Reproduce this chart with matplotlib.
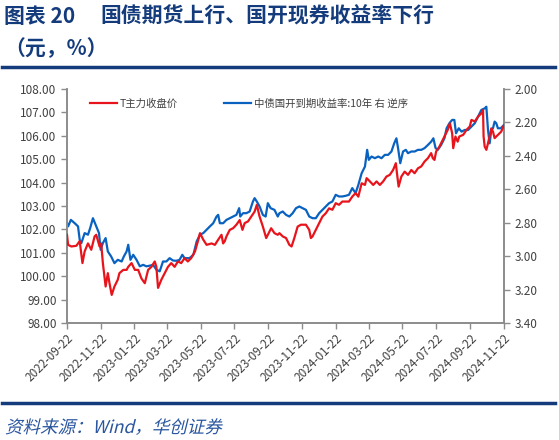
import pandas as pd
import matplotlib.pyplot as plt
import matplotlib.dates as mdates
from matplotlib.lines import Line2D
from matplotlib.textpath import TextPath
from matplotlib.patches import PathPatch
from matplotlib.font_manager import FontProperties
from matplotlib.transforms import Affine2D, IdentityTransform

plt.rcParams['font.family'] = ['Noto Sans CJK SC', 'DejaVu Sans']

# T主力收盘价 (left axis, 元)
t_dates = ['2022-09-22', '2022-09-24', '2022-09-30', '2022-10-09', '2022-10-15', '2022-10-20', '2022-10-24',
           '2022-10-30', '2022-11-05', '2022-11-11', '2022-11-14', '2022-11-20', '2022-11-23', '2022-11-26',
           '2022-12-01', '2022-12-05', '2022-12-08', '2022-12-12', '2022-12-17', '2022-12-23', '2022-12-26',
           '2023-01-02', '2023-01-08', '2023-01-11', '2023-01-17', '2023-01-23', '2023-01-29', '2023-02-04',
           '2023-02-10', '2023-02-16', '2023-02-22', '2023-02-28', '2023-03-03', '2023-03-06', '2023-03-12',
           '2023-03-18', '2023-03-24', '2023-03-30', '2023-04-05', '2023-04-11', '2023-04-17', '2023-04-23',
           '2023-04-29', '2023-05-05', '2023-05-12', '2023-05-18', '2023-05-21', '2023-05-27', '2023-06-02',
           '2023-06-11', '2023-06-17', '2023-06-23', '2023-06-29', '2023-07-02', '2023-07-05', '2023-07-08',
           '2023-07-14', '2023-07-20', '2023-07-26', '2023-08-01', '2023-08-06', '2023-08-10', '2023-08-16',
           '2023-08-22', '2023-08-28', '2023-09-01', '2023-09-06', '2023-09-12', '2023-09-18', '2023-09-24',
           '2023-09-27', '2023-10-03', '2023-10-09', '2023-10-12', '2023-10-18', '2023-10-24', '2023-10-30',
           '2023-11-03', '2023-11-08', '2023-11-14', '2023-11-20', '2023-11-29', '2023-12-05', '2023-12-08',
           '2023-12-11', '2023-12-17', '2023-12-23', '2023-12-29', '2024-01-04', '2024-01-10', '2024-01-16',
           '2024-01-22', '2024-01-28', '2024-02-03', '2024-02-09', '2024-02-15', '2024-02-21', '2024-02-27',
           '2024-03-03', '2024-03-09', '2024-03-15', '2024-03-18', '2024-03-24', '2024-03-30', '2024-04-05',
           '2024-04-11', '2024-04-17', '2024-04-23', '2024-04-29', '2024-05-05', '2024-05-10', '2024-05-12',
           '2024-05-15', '2024-05-20', '2024-05-26', '2024-06-01', '2024-06-07', '2024-06-13', '2024-06-19',
           '2024-06-25', '2024-07-01', '2024-07-07', '2024-07-13', '2024-07-16', '2024-07-19', '2024-07-22',
           '2024-07-28', '2024-08-03', '2024-08-09', '2024-08-12', '2024-08-16', '2024-08-20', '2024-08-22',
           '2024-08-26', '2024-08-30', '2024-09-02', '2024-09-09', '2024-09-15', '2024-09-21', '2024-09-24',
           '2024-09-30', '2024-10-06', '2024-10-12', '2024-10-15', '2024-10-16', '2024-10-18', '2024-10-21',
           '2024-10-24', '2024-10-30', '2024-11-02', '2024-11-05', '2024-11-11', '2024-11-17', '2024-11-22']
t_price = [101.77, 101.34, 101.27, 101.30, 101.50, 100.56, 101.06,
           101.40, 101.13, 101.70, 101.77, 101.27, 101.40, 100.56,
           99.56, 100.13, 99.70, 99.20, 99.56, 99.85, 100.13,
           100.27, 100.27, 100.40, 100.56, 100.27, 100.27, 99.90,
           99.70, 100.27, 100.40, 100.63, 100.40, 99.50, 99.85,
           100.13, 100.40, 100.56, 100.40, 100.63, 100.56, 100.77,
           100.63, 100.77, 101.06, 101.56, 101.84, 101.56, 101.34,
           101.40, 101.34, 101.56, 101.77, 101.40, 101.50, 101.70,
           101.98, 102.05, 102.20, 102.40, 101.98, 102.27, 102.34,
           102.55, 102.76, 103.05, 102.55, 102.12, 101.63, 101.91,
           102.05, 101.84, 101.77, 101.84, 101.70, 101.63, 101.34,
           101.27, 101.63, 102.12, 102.20, 102.20, 101.98, 101.63,
           101.70, 101.98, 102.27, 102.55, 102.69, 102.90, 102.84,
           103.12, 103.05, 103.19, 103.19, 103.19, 103.40, 103.55,
           103.40, 103.97, 103.90, 104.19, 104.05, 103.90, 104.05,
           103.90, 104.05, 104.26, 104.33, 104.54, 104.83, 104.40,
           103.83, 104.26, 104.47, 104.33, 104.54, 104.40, 104.61,
           104.69, 104.90, 105.04, 105.26, 105.04, 104.97, 105.33,
           105.54, 105.83, 106.11, 106.25, 106.53, 106.11, 105.47,
           105.97, 105.75, 105.97, 106.04, 106.25, 106.40, 106.68,
           106.61, 106.82, 106.96, 107.10, 105.97, 105.54, 105.40,
           105.68, 106.32, 106.18, 105.90, 106.04, 106.18, 106.46]

# 中债国开到期收益率:10年 (right axis, %, reversed)
cdb_dates = ['2022-09-22', '2022-09-24', '2022-09-29', '2022-10-06', '2022-10-12', '2022-10-15', '2022-10-18',
             '2022-10-24', '2022-10-30', '2022-11-03', '2022-11-08', '2022-11-14', '2022-11-19', '2022-11-22',
             '2022-11-26', '2022-12-01', '2022-12-05', '2022-12-11', '2022-12-17', '2022-12-23', '2022-12-30',
             '2023-01-03', '2023-01-08', '2023-01-11', '2023-01-15', '2023-01-20', '2023-01-26', '2023-02-01',
             '2023-02-07', '2023-02-13', '2023-02-19', '2023-02-25', '2023-03-03', '2023-03-09', '2023-03-15',
             '2023-03-21', '2023-03-27', '2023-04-02', '2023-04-08', '2023-04-14', '2023-04-19', '2023-04-23',
             '2023-05-02', '2023-05-09', '2023-05-15', '2023-05-21', '2023-05-27', '2023-06-02', '2023-06-08',
             '2023-06-14', '2023-06-20', '2023-06-23', '2023-06-26', '2023-07-02', '2023-07-08', '2023-07-14',
             '2023-07-20', '2023-07-26', '2023-07-31', '2023-08-02', '2023-08-07', '2023-08-13', '2023-08-19',
             '2023-08-25', '2023-08-28', '2023-09-01', '2023-09-06', '2023-09-12', '2023-09-17', '2023-09-21',
             '2023-09-26', '2023-10-03', '2023-10-09', '2023-10-12', '2023-10-18', '2023-10-24', '2023-10-30',
             '2023-11-05', '2023-11-11', '2023-11-17', '2023-11-23', '2023-11-29', '2023-12-05', '2023-12-11',
             '2023-12-17', '2023-12-23', '2023-12-29', '2024-01-04', '2024-01-10', '2024-01-16', '2024-01-22',
             '2024-01-28', '2024-02-03', '2024-02-09', '2024-02-15', '2024-02-21', '2024-02-27', '2024-03-03',
             '2024-03-09', '2024-03-15', '2024-03-19', '2024-03-22', '2024-03-27', '2024-04-02', '2024-04-08',
             '2024-04-14', '2024-04-20', '2024-04-26', '2024-05-02', '2024-05-07', '2024-05-11', '2024-05-14',
             '2024-05-18', '2024-05-23', '2024-05-28', '2024-06-01', '2024-06-07', '2024-06-13', '2024-06-19',
             '2024-06-25', '2024-07-01', '2024-07-07', '2024-07-13', '2024-07-17', '2024-07-21', '2024-07-25',
             '2024-07-31', '2024-08-06', '2024-08-10', '2024-08-15', '2024-08-20', '2024-08-24', '2024-08-27',
             '2024-09-01', '2024-09-06', '2024-09-12', '2024-09-18', '2024-09-24', '2024-09-30', '2024-10-06',
             '2024-10-12', '2024-10-18', '2024-10-21', '2024-10-24', '2024-10-27', '2024-10-30', '2024-11-02',
             '2024-11-05', '2024-11-08', '2024-11-11', '2024-11-16', '2024-11-22']
cdb_yield = [2.803, 2.822, 2.783, 2.803, 2.822, 2.902, 2.922,
             2.862, 2.872, 2.832, 2.773, 2.822, 2.862, 2.962,
             2.922, 2.892, 2.972, 3.002, 3.042, 3.022, 3.032,
             3.002, 2.972, 2.932, 3.022, 2.992, 3.022, 3.061,
             3.052, 3.061, 3.057, 3.052, 3.081, 3.091, 3.032,
             3.032, 3.012, 3.026, 3.028, 3.022, 2.992, 3.012,
             3.012, 2.992, 2.912, 2.872, 2.862, 2.842, 2.822,
             2.803, 2.763, 2.753, 2.803, 2.803, 2.783, 2.773,
             2.763, 2.753, 2.713, 2.763, 2.743, 2.743, 2.733,
             2.673, 2.653, 2.673, 2.703, 2.753, 2.763, 2.683,
             2.713, 2.723, 2.763, 2.743, 2.733, 2.753, 2.763,
             2.743, 2.713, 2.703, 2.713, 2.723, 2.763, 2.773,
             2.773, 2.743, 2.723, 2.703, 2.683, 2.673, 2.633,
             2.643, 2.643, 2.639, 2.633, 2.593, 2.623, 2.574,
             2.504, 2.464, 2.364, 2.424, 2.404, 2.414, 2.404,
             2.414, 2.394, 2.394, 2.374, 2.325, 2.295, 2.354,
             2.444, 2.374, 2.364, 2.384, 2.374, 2.374, 2.364,
             2.364, 2.354, 2.335, 2.315, 2.295, 2.354, 2.364,
             2.335, 2.295, 2.235, 2.205, 2.185, 2.185, 2.265,
             2.235, 2.255, 2.245, 2.245, 2.225, 2.205, 2.165,
             2.125, 2.116, 2.106, 2.245, 2.325, 2.245, 2.235,
             2.195, 2.205, 2.235, 2.235, 2.215]

tick_dates = ['2022-09-22', '2022-11-22', '2023-01-22', '2023-03-22', '2023-05-22', '2023-07-22', '2023-09-22',
              '2023-11-22', '2024-01-22', '2024-03-22', '2024-05-22', '2024-07-22', '2024-09-22', '2024-11-22']
left_ticks = [98, 99, 100, 101, 102, 103, 104, 105, 106, 107, 108]
right_ticks = [2.0, 2.2, 2.4, 2.6, 2.8, 3.0, 3.2, 3.4]

red = '#E8141C'
blue = '#0A62C0'
navy = '#143C7C'
spine_col = '#8C8C8C'
txt_col = '#404040'

fig = plt.figure(figsize=(5.59, 4.40), dpi=100)
ax = fig.add_axes([67 / 559, 1 - 323 / 440, 437 / 559, 234 / 440])
ax2 = ax.twinx()

ax.plot(pd.to_datetime(t_dates), t_price, color=red, lw=1.6, zorder=3)
ax2.plot(pd.to_datetime(cdb_dates), cdb_yield, color=blue, lw=1.6)
ax.set_zorder(ax2.get_zorder() + 1)
ax.patch.set_visible(False)

ax.set_xlim(pd.Timestamp('2022-09-22'), pd.Timestamp('2024-11-22'))
ax.set_ylim(98, 108)
ax2.set_ylim(3.4, 2.0)
ax.set_yticks(left_ticks)
ax.set_yticklabels([f'{v:.2f}' for v in left_ticks])
ax2.set_yticks(right_ticks)
ax2.set_yticklabels([f'{v:.2f}' for v in right_ticks])
ax.set_xticks(pd.to_datetime(tick_dates))
ax.xaxis.set_major_formatter(mdates.DateFormatter('%Y-%m-%d'))
for lab in ax.get_xticklabels():
    lab.set_rotation(45)
    lab.set_ha('right')
    lab.set_rotation_mode('anchor')

for a in (ax, ax2):
    a.spines['top'].set_visible(False)
    for s in ('left', 'right', 'bottom'):
        a.spines[s].set_color(spine_col)
        a.spines[s].set_linewidth(1.2)
    a.tick_params(colors=spine_col, labelcolor=txt_col, labelsize=8.5, length=4, width=1)
ax.tick_params(axis='x', labelsize=8.5, pad=2)

handles = [Line2D([], [], color=red, lw=1.6), Line2D([], [], color=blue, lw=1.6)]
ax.legend(handles, ['T主力收盘价', '中债国开到期收益率:10年 右 逆序'], ncol=2, loc='upper left',
          bbox_to_anchor=(0.032, 1.0), frameon=False, fontsize=7.5, handlelength=2.6,
          handletextpad=0.25, columnspacing=4.4, labelcolor=txt_col)

fig.text(0.008, 0.963, '图表 20', color=navy, fontsize=15, fontweight='bold', va='center')
fig.text(100 / 559, 0.963, '国债期货上行、国开现券收益率下行', color=navy, fontsize=15,
         fontweight='bold', va='center')
fig.text(0.008, 0.89, '（元，%）', color=navy, fontsize=15, fontweight='bold', va='center')
fig.add_artist(Line2D([0.004, 0.993], [1 - 67 / 440] * 2, color=navy, lw=2.5))
fig.add_artist(Line2D([0.004, 0.993], [1 - 403 / 440] * 2, color=navy, lw=2.5))

# source note, slanted like the original italic
src = TextPath((0, 0), '资料来源：Wind，华创证券', size=17.5, prop=FontProperties(family='Noto Sans CJK SC'))
src_tf = Affine2D().skew_deg(14, 0).translate(5, 440 - 433) + IdentityTransform()
fig.add_artist(PathPatch(src, transform=src_tf, color='#2A56A0', lw=0))

fig.savefig('out.png', dpi=100)
